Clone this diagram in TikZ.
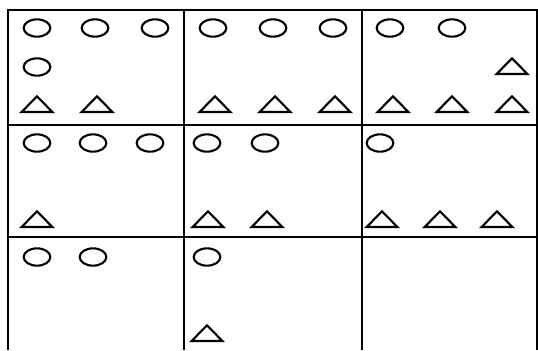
\documentclass[tikz,border=0pt]{standalone}
\usepackage{tikz}
\usetikzlibrary{shapes.geometric}

\begin{document}
\begin{tikzpicture}[
  x=0.03cm,y=-0.03cm,
  grid/.style={line width=2.4pt},
  circ/.style={draw,ellipse,line width=1.8pt,minimum width=0.8cm,minimum height=0.52cm,inner sep=0pt},
  tri/.style={draw,isosceles triangle,shape border rotate=90,isosceles triangle stretches,
    line width=1.8pt,minimum width=0.92cm,minimum height=0.47cm,inner sep=0pt,anchor=south}
]
\useasboundingbox (0,0) rectangle (538,350);
% grid
\draw[grid] (8,350) -- (8,10) -- (537,10) -- (537,350);
\draw[grid] (8,125) -- (537,125);
\draw[grid] (8,237) -- (537,237);
\draw[grid] (184,10) -- (184,350);
\draw[grid] (362,10) -- (362,350);
% row 1
\node[circ] (a1) at (37,28) {};
\node[circ] (a2) at (95,28) {};
\node[circ] (a3) at (155,28) {};
\node[circ] (a4) at (37,67) {};
\node[tri] (at1) at (37,113) {};
\node[tri] (at2) at (97,113) {};
\node[circ] (b1) at (213,28) {};
\node[circ] (b2) at (273,28) {};
\node[circ] (b3) at (333,28) {};
\node[tri] (bt1) at (215,113) {};
\node[tri] (bt2) at (275,113) {};
\node[tri] (bt3) at (335,113) {};
\node[circ] (c1) at (390,28) {};
\node[circ] (c2) at (452,28) {};
\node[tri] (ct0) at (512,75) {};
\node[tri] (ct1) at (393,113) {};
\node[tri] (ct2) at (452,113) {};
\node[tri] (ct3) at (512,113) {};
% row 2
\node[circ] (d1) at (37,143) {};
\node[circ] (d2) at (93,143) {};
\node[circ] (d3) at (150,143) {};
\node[tri] (dt1) at (37,228) {};
\node[circ] (e1) at (207,143) {};
\node[circ] (e2) at (265,143) {};
\node[tri] (et1) at (208,228) {};
\node[tri] (et2) at (267,228) {};
\node[circ] (f1) at (380,143) {};
\node[tri] (ft1) at (382,228) {};
\node[tri] (ft2) at (440,228) {};
\node[tri] (ft3) at (497,228) {};
% row 3
\node[circ] (g1) at (37,257) {};
\node[circ] (g2) at (93,257) {};
\node[circ] (h1) at (207,257) {};
\node[tri] (ht1) at (207,342) {};
\end{tikzpicture}
\end{document}
